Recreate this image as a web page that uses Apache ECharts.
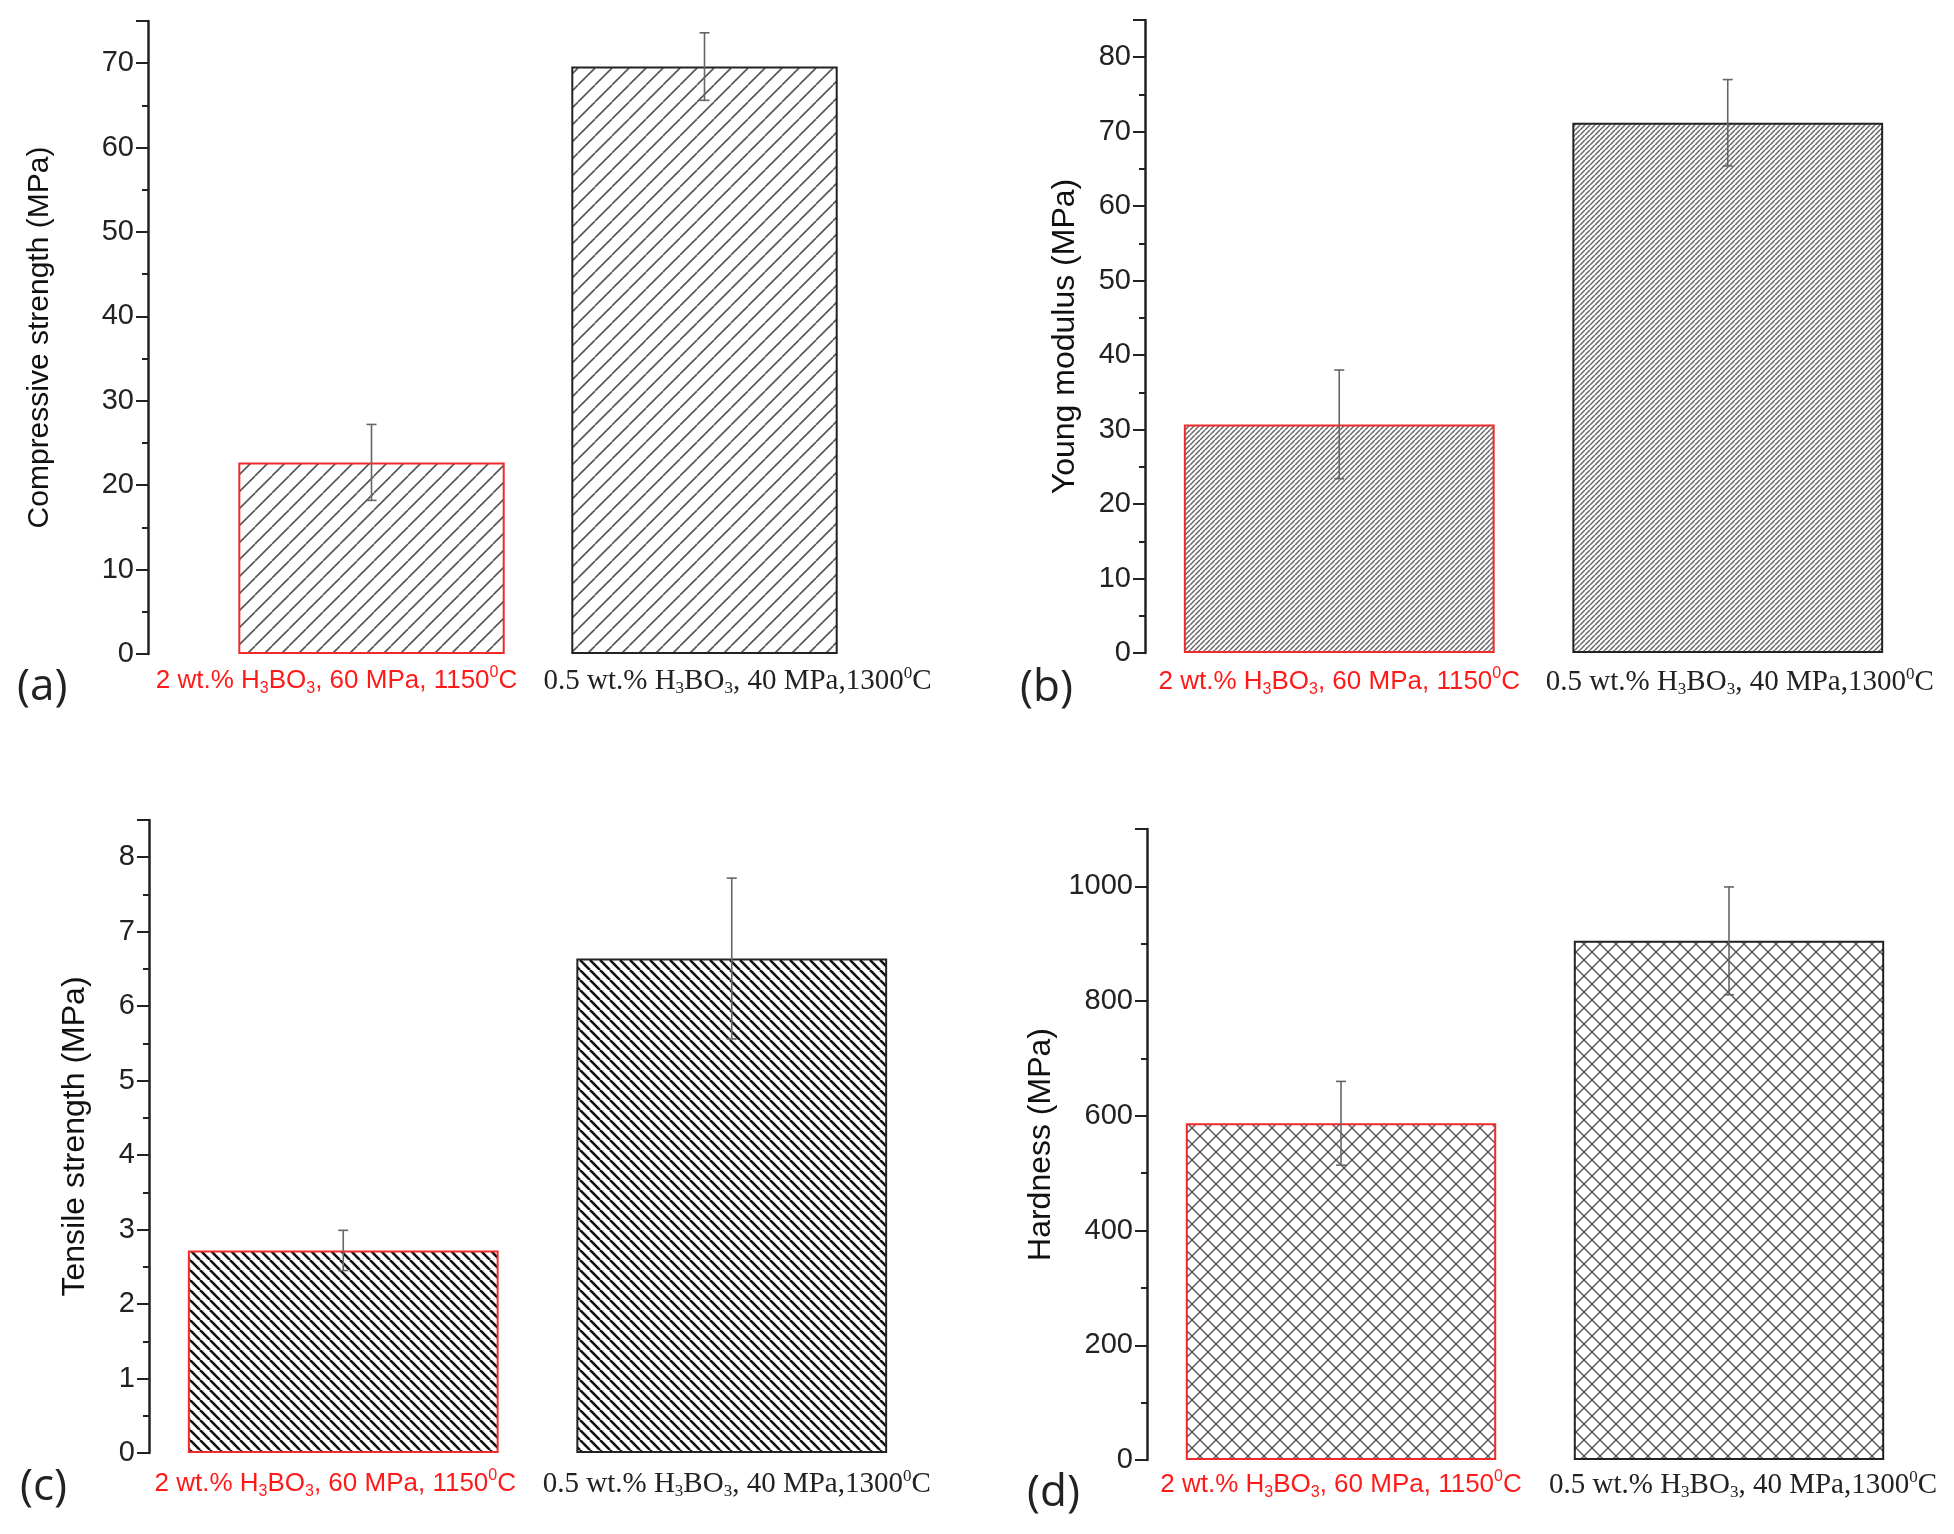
<!DOCTYPE html>
<html lang="en">
<head>
  <meta charset="UTF-8">
  <title>Mechanical properties</title>
  <script src="https://cdn.jsdelivr.net/npm/echarts@6/dist/echarts.min.js"></script>
  <style>body{margin:0;background:#fff;}</style>
</head>
<body>
<div id="main" style="width:1954px;height:1534px;"></div>
<script>
  // categories (same two samples in all panels)
  var categories = ['2 wt.% H3BO3, 60 MPa, 1150°C', '0.5 wt.% H3BO3, 40 MPa,1300°C'];

  // (a) compressive strength
  var compMean = [22.7, 69.6];
  var compErr = [4.5, 4.0];
  // (b) young modulus
  var youngMean = [30.7, 71.2];
  var youngErr = [7.3, 5.8];
  // (c) tensile strength
  var tensMean = [2.72, 6.64];
  var tensErr = [0.27, 1.08];
  // (d) hardness
  var hardMean = [587, 905];
  var hardErr = [73, 94];

  var yNames = ['Compressive strength (MPa)', 'Young modulus (MPa)', 'Tensile strength (MPa)', 'Hardness (MPa)'];
  var panelTags = ['(a)', '(b)', '(c)', '(d)'];

  // hatch fills
  function hatch(p, lw, col, dirs) {
    var c = document.createElement('canvas');
    c.width = c.height = p;
    var g = c.getContext('2d');
    g.strokeStyle = col;
    g.lineWidth = lw;
    dirs.forEach(function (d) {
      for (var k = -1; k <= 1; k++) {
        g.beginPath();
        if (d === '/') { g.moveTo(k * p, p); g.lineTo(k * p + p, 0); }
        else { g.moveTo(k * p, 0); g.lineTo(k * p + p, p); }
        g.stroke();
      }
    });
    return { image: c, repeat: 'repeat' };
  }
  var fills = [
    hatch(17, 1.6, '#555', ['/']),
    hatch(5, 1.5, '#666', ['/']),
    hatch(10, 2.6, '#111', ['\\']),
    hatch(16, 1.4, '#555', ['/', '\\'])
  ];

  var panels = [
    { mean: compMean, err: compErr, grid: { left: 205, top: 21, width: 666, height: 633 }, max: 75, interval: 10, offset: 57, nameGap: 93, nameSize: 30, shift: [70, 66], lm: 11 },
    { mean: youngMean, err: youngErr, grid: { left: 1145, top: 20, width: 777, height: 633 }, max: 85, interval: 10, offset: 0, nameGap: 64, nameSize: 32, shift: [0, 24], lm: 13 },
    { mean: tensMean, err: tensErr, grid: { left: 149, top: 820, width: 777, height: 633 }, max: 8.5, interval: 1, offset: 0, nameGap: 58, nameSize: 32, shift: [16, 10], lm: 15 },
    { mean: hardMean, err: hardErr, grid: { left: 1147, top: 829, width: 776, height: 631 }, max: 1100, interval: 200, offset: 0, nameGap: 90, nameSize: 32, shift: [0, 28], lm: 9 }
  ];
  var tagPos = [[17, 665], [1020, 666], [20, 1465], [1027, 1471]];

  var RED = '#ff1a1a';
  var richStyles = {
    r: { fontFamily: 'Liberation Sans', fontSize: 26, color: RED, lineHeight: 32 },
    rs: { fontFamily: 'Liberation Sans', fontSize: 16, color: RED, lineHeight: 12, verticalAlign: 'bottom' },
    rp: { fontFamily: 'Liberation Sans', fontSize: 16, color: RED, lineHeight: 16, verticalAlign: 'top' },
    k: { fontFamily: 'Liberation Serif', fontSize: 29, color: '#222', lineHeight: 32 },
    ks: { fontFamily: 'Liberation Serif', fontSize: 17, color: '#222', lineHeight: 12, verticalAlign: 'bottom' },
    kp: { fontFamily: 'Liberation Serif', fontSize: 17, color: '#222', lineHeight: 16, verticalAlign: 'top' }
  };

  function labelFor(shift) {
    return function (value, idx) {
      var s = idx === 0 ? 'r' : 'k';
      var m = value.match(/^(.*)H3BO3(.*?)(\d+)°C$/);
      var txt = '{' + s + '|' + m[1] + 'H}{' + s + 's|3}{' + s + '|BO}{' + s + 's|3}{' + s + '|' + m[2] + m[3] + '}{' + s + 'p|0}{' + s + '|C}';
      if (shift[idx]) {
        if (idx === 0) txt = txt + '{g0| }';
        else txt = '{g1| }' + txt;
      }
      return txt;
    };
  }

  var option = { animation: false, grid: [], xAxis: [], yAxis: [], series: [], graphic: [] };

  panels.forEach(function (p, i) {
    option.grid.push(p.grid);
    var rich = {};
    for (var key in richStyles) rich[key] = richStyles[key];
    rich.g0 = { width: p.shift[0], fontSize: 10 };
    rich.g1 = { width: p.shift[1], fontSize: 10 };
    option.xAxis.push({
      type: 'category', gridIndex: i, data: categories,
      axisLine: { show: false }, axisTick: { show: false },
      axisLabel: { interval: 0, margin: p.lm, formatter: labelFor(p.shift), rich: rich }
    });
    option.yAxis.push({
      type: 'value', gridIndex: i, min: 0, max: p.max, interval: p.interval, offset: p.offset,
      name: yNames[i], nameLocation: 'middle', nameGap: p.nameGap,
      nameTextStyle: { fontFamily: 'Liberation Sans', fontSize: p.nameSize, color: '#111' },
      axisLine: { show: true, lineStyle: { color: '#222', width: 2.5 } },
      axisTick: { show: true, length: 12, lineStyle: { color: '#222', width: 2 } },
      minorTick: { show: true, splitNumber: 2, length: 6, lineStyle: { color: '#222', width: 2 } },
      splitLine: { show: false },
      axisLabel: {
        showMaxLabel: false, margin: 14, fontFamily: 'Liberation Sans', fontSize: 29, color: '#222',
        formatter: function (v) { return String(v); }
      }
    });
    option.series.push({
      type: 'bar', xAxisIndex: i, yAxisIndex: i, barCategoryGap: '20%',
      data: p.mean.map(function (v, j) {
        return { value: v, itemStyle: { color: fills[i], borderColor: j === 0 ? '#ee2a2a' : '#222', borderWidth: 2 } };
      })
    });
    option.series.push({
      type: 'custom', xAxisIndex: i, yAxisIndex: i, z: 5,
      data: p.mean.map(function (v, j) { return [j, v - p.err[j], v + p.err[j]]; }),
      renderItem: function (params, api) {
        var lo = api.coord([api.value(0), api.value(1)]);
        var hi = api.coord([api.value(0), api.value(2)]);
        var st = { stroke: '#666', lineWidth: 1.6 };
        return {
          type: 'group', children: [
            { type: 'line', shape: { x1: hi[0], y1: hi[1], x2: lo[0], y2: lo[1] }, style: st },
            { type: 'line', shape: { x1: hi[0] - 5, y1: hi[1], x2: hi[0] + 5, y2: hi[1] }, style: st },
            { type: 'line', shape: { x1: lo[0] - 5, y1: lo[1], x2: lo[0] + 5, y2: lo[1] }, style: st }
          ]
        };
      }
    });
    option.graphic.push({
      type: 'text', left: tagPos[i][0], top: tagPos[i][1],
      style: { text: panelTags[i], font: '44px "Open Sans"', fill: '#222' }
    });
  });

  var myChart = echarts.init(document.getElementById('main'));
  myChart.setOption(option);
</script>
</body>
</html>
